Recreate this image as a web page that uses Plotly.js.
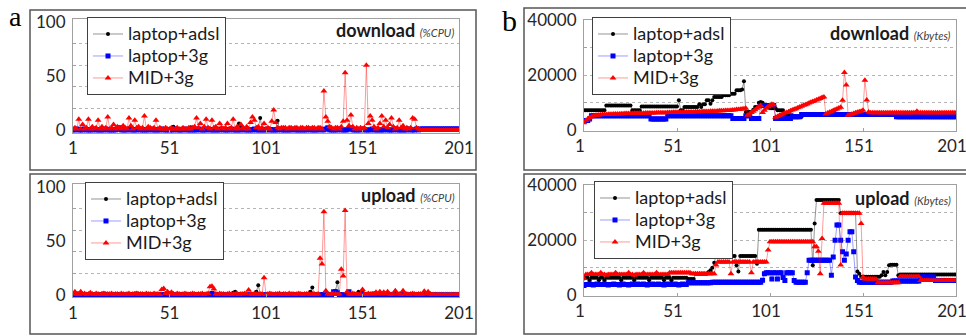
<!DOCTYPE html>
<html><head><meta charset="utf-8">
<script src="https://cdn.plot.ly/plotly-3.0.1.min.js"></script>
<style>html,body{margin:0;padding:0;background:#fff;}#chart{width:966px;height:336px;}</style>
</head><body><div id="chart"></div>
<script>
// ---------- labels ----------
const seriesNames = ['laptop+adsl', 'laptop+3g', 'MID+3g'];
const xTickVals = [1, 51, 101, 151, 201];
const xTickText = ['1', '51', '101', '151', '201'];
const cpuTickVals = [0, 50, 100];
const cpuTickText = ['0', '50', '100'];
const cpuGridVals = [20, 40, 60, 80];
const kbTickVals = [0, 20000, 40000];
const kbTickText = ['0', '20000', '40000'];
const kbGridVals = [10000, 30000];
const panelTitleMain = ['download', 'upload', 'download', 'upload'];
const panelTitleUnit = ['(%CPU)', '(%CPU)', '(Kbytes)', '(Kbytes)'];
const panelLetters = ['a', 'b'];

// ---------- panel a, download (%CPU) ----------
const cpuDownAdsl = [
1,0,1,1,0,1,0,1,1,0, 1,0,1,0,1,1,0,1,0,1, 0,1,1,0,1,0,1,1,0,1, 1,0,1,0,1,1,0,1,0,1,
0,1,1,0,1,0,1,0,1,1, 0,1,3,1,0,1,1,0,1,0, 1,2.5,1,0,1,1,0,1,0,1, 1,0,1,0,1,1,0,1,0,1,
1,0,1,1,0,1,6,3.5,1,0, 1,1,0,1,0,1,2,11,1,0, 1,1,0,1,0,1,8.5,1,0,1, 1,0,1,1,0,1,0,1];
const cpuDown3g = [
0,0,1,0,0,0,1,0,0,0, 0,1,0,0,0,0,0,1,0,0, 0,0,0,1,2,0,0,0,0,1, 0,0,0,0,1,0,0,0,0,0,
1,0,0,0,0,0,1,0,0,0, 0,0,0,1,0,0,0,0,1,0, 0,0,0,0,0,1,0,0,0,0, 1,0,0,0,0,0,0,1,0,0,
0,0,1,0,0,0,0,0,1,0, 0,0,0,0,1,0,0,0,0,0, 0,1,0,0,0,0,0,1,0,0, 0,0,0,0,1,0,0,0,0,0,
0,0,1,0,0,0,0,0,1,0, 0,1,2,0,0,0,0,0,1,0, 0,0,0,1,2,0,0,0,0,0, 1,0,0,0,0,1,0,0,0,0,
0,0,1,0,0,0,0,1,0,0, 0,0,0,0,1,0,0,0,1,0, 1,1,1,1,1,1,1,1,1,1, 1,1,1,1,1,1,1,1,1,1, 1];
const cpuDownMid = [
1,2,1,10,1,5,1,2,10,1, 3,1,2,9,1,3,1,2,12,1, 2,5,1,3,2,1,4,2,1,11, 4,1,9,2,3,1,2,13,1,3,
2,1,2,9,1,2,1,1,2,1, 1,2,1,1,2,1,1,2,1,1, 2,1,2,3,11,2,6,1,3,10, 2,1,9,2,3,1,6,2,1,2,
6,1,2,10,1,3,1,5,2,1, 3,1,7,12,9,2,3,1,2,6, 1,2,1,8,18.5,7,2,1,2,2, 2,1,2,2,1,2,2,1,2,2,
1,2,2,1,2,2,1,2,2,1, 36,12,8,3,2,1,2,2,1,3, 8,53,9,4,14,3,1,2,1,2, 1,2,60,6,13,9,3,1,2,6,
13,3,9,2,5,11,3,1,2,9, 2,4,1,2,1,2,11,10,2,1, 0,0,0,0,0,0,0,0,0,0, 0,0,0,0,0,0,0,0,0,0, 0];

// ---------- panel a, upload (%CPU) ----------
const cpuUpAdsl = [
0,1,0,0,1,0,1,0,0,1, 0,0,1,0,1,0,0,1,0,0, 1,0,0,1,0,1,0,0,1,0, 0,1,0,0,1,0,0,1,0,1,
0,0,1,0,0,1,0,1,0,0, 1,0,0,1,0,0,1,0,1,0, 0,1,0,0,1,0,0,1,0,0, 1,0,0,1,0,1,0,0,1,0,
0,1,0,2,3,0,1,0,0,1, 0,0,1,0,1,3,9,1,0,0, 1,0,0,1,0,0,1,0,0,1, 0,0,1,0,0,1,0,0,1,0,
0,1,0,3,7,0,1,0,0,1, 0,0,1,0,0,1,4,11.7,0,1, 0,0,1,0,0,1,0,1,3,0, 2,0,1,0,0,1,0,0,1,0,
0,1,0,0,1,0,0,1,0,0, 1,0,0,1,0,0,1,0,0,1, 0,0,1,0,0,1,0,0,1,0, 0,1,0,0,1,0,0,1,0,0, 1];
const cpuUp3g = [
0,0,1,0,0,0,0,0,0,0, 0,0,0,0,0,0,1,0,0,0, 0,0,0,0,0,0,0,0,0,0, 0,0,0,1,0,0,0,0,0,0,
0,0,0,0,0,0,0,0,0,0, 0,1,0,0,0,0,0,0,0,0, 0,0,0,0,0,0,0,0,0,0, 0,0,1.5,0,0,0,0,0,0,0,
0,0,0,0,0,0,0,0,0,0, 0,0,0,0,0,0,0,0,0,0, 0,0,0,0,0,0,0,0,0,0, 0,0,0,0,0,0,0,0,0,0,
0,0,0,0,0,0,0,0,0,0, 0,0,0,0,0,3,3,2,0,0, 0,0,0,3,0,0,0,0,0,0, 0,0,0,0,0,0,1,0,0,0,
0,1,0,0,0,0,0,0,0,0, 0,0,0,0,0,0,0,0,0,0, 0,0,0,0,1,0,0,0,0,0, 0,0,0,0,0,0,0,0,0,0, 0];
const cpuUpMid = [
1,3,1,0.5,3,1,1.5,0.5,1,2, 1,0.5,1.5,1,0.5,1,1.5,0.5,1,1, 1.5,0.5,1,1,0.5,1.5,1,0.5,1,1.5, 0.5,1,1,1.5,0.5,1,1,0.5,1.5,1,
1,0.5,1.5,1,1,0.5,5,6,1.5,3, 1,2.5,1,0.5,1.5,1,0.5,1,1.5,1, 0.5,1,1.5,1,0.5,1,1,1.5,0.5,1, 1.5,7.7,8,5.5,1,0.5,1.5,1,1,0.5,
1,1.5,0.5,1,1,1.5,0.5,1,1,1.5, 1,4.6,1,0.5,1.5,1,0.5,1,1,16, 0.5,1,1.5,1,0.5,1,1,1.5,0.5,1, 1,0.5,1.5,1,1,0.5,1,1.5,1,0.5,
1,1,1.5,0.5,1,1,0.5,1,34,28.7, 77,4,1,0.5,1.5,1,1,0.5,1,23.8, 17.6,78,3,1,0.5,1.5,1,1,0.5,1, 5,1,0.5,1.5,1,1,1,2.5,1,3,
1,2.5,1,3,1,0.5,1,4,1,1, 0.5,4,1,1,0.5,1,1.5,1,0.5,1, 1,0.5,3.5,1,3,1,0.5,0.5,0.5,0.5, 0.5,0.5,0.5,0.5,0.5,0.5,0.5,0.5,0.5,0.5, 0.5];

// ---------- panel b, download (Kbytes) ----------
const kbDownAdsl = [
7300,7300,7300,7300,7300,7300,7300,7300,7300,7300, 7300,7300,9000,9000,9000,9000,9000,9000,9000,9000,
9000,9000,9000,9000,9000,9000,7300,7300,7300,7300, 7300,8700,8700,8700,8700,8700,8700,8700,8700,8700,
8700,8700,8700,8700,8700,8700,8700,8700,8700,8700, 8700,10900,7300,7300,8500,8500,8500,8500,8500,8500,
8500,8500,9500,8500,9500,9500,10900,10900,9700,10900, 12100,12100,12100,12100,12100,12700,12700,12700,12700,13300,
13300,13300,14500,14500,14500,14800,17800,6700,6700,6700, 6700,7500,8500,8500,10000,10300,10000,9000,9000,9000,
8000,8000,8000,8000,7300,7300,7300,7300,5500,5500, 5500,5500,5500,5000,5000,5000,5000,5000];
const kbDown3g = [
3600,3600,3600,4200,5300,5300,5300,5300,5300,5300, 5300,5300,5300,5300,5300,5300,5300,5300,5300,5300,
5300,5300,5300,5300,5300,5300,5300,5300,5300,5300, 5300,5300,5300,5300,5300,5300,4200,4200,4200,4200,
4200,4200,4200,4200,4200,5300,5300,5300,5300,5300, 5300,5300,5300,5300,5300,5300,5300,5300,5300,5300,
5300,5300,5300,5300,5300,5300,5300,5300,5300,5300, 5300,5300,5300,5300,5300,5300,5300,5300,5300,5300,
4300,4300,4300,4300,4300,4300,4300,5300,5300,5300, 4300,4300,4300,4300,4300,9000,9000,9000,9000,9000,
9000,9000,9000,4300,4300,4300,4300,4300,4300,4300, 4300,4300,5000,5000,5000,5000,5000,5800,5800,5800,
5800,5800,5800,5800,5800,5800,5800,5800,5800,5800, 5800,5800,5800,5800,5800,5800,5800,5800,5800,5800,
5800,5800,5800,5800,5800,5800,5800,5800,5800,5800, 5800,5800,5800,5800,5800,5800,5800,5800,5800,5800,
5800,5800,5800,5800,5800,5800,5800,5800,5000,5000, 5000,5000,5000,5000,5000,5000,5000,5000,5000,5000,
5000,5000,5000,5000,5000,5000,5000,5000,5000,5000, 5000,5000,5000,5000,5000,5000,5000,5000,5000,5000, 5000];
const kbDownMid = [
2800,3600,4200,4700,5000,5200,5400,5500,5600,5700, 5750,5800,5800,5850,5900,5900,5950,6000,6000,6000,
6050,6050,6100,6100,6100,6150,6150,6200,6200,6200, 6250,6250,6250,6300,6300,6300,6350,6350,6350,6400,
6400,6400,6450,6450,6450,6500,6500,6500,6550,6550, 6550,6600,6600,6600,6650,6650,6650,6700,6700,6700,
6750,6750,6800,6800,6850,6850,6900,6900,6950,6950, 7000,7000,7050,7100,7100,7150,7200,7200,7250,7300,
7400,7450,7550,7600,7700,7800,7900,8000,5500,6000, 6500,7000,7500,8000,8500,9000,6500,7300,8000,8600,
9100,9500,9300,4800,5100,5400,5700,6000,6300,6500, 6800,7100,7400,7700,7900,8200,8500,8800,9100,9300,
9600,9900,10200,10500,10700,11000,11300,11600,11900,12100, 6000,6300,6600,6900,7200,7500,7800,8100,8400,10900,
21000,16400,5500,5700,5900,6100,6400,6600,6800,7000, 7300,18200,11000,6700,6400,6400,6400,6400,6400,6400,
6400,6400,6400,6400,6400,6400,6400,6400,6400,6400, 6400,6400,6400,6400,6400,6400,6400,6400,6400,7000,
6400,6400,6400,6400,6400,6400,6400,6400,6400,6400, 6400,6400,6400,6400,6400,6400,6400,6400,6400,6400, 6400];

// ---------- panel b, upload (Kbytes) ----------
const kbUpAdsl = [
6100,6400,6400,5500,6400,6400,6400,6400,5500,6400, 6400,5500,6400,6400,6400,6400,6400,6400,6400,6400,
5500,6400,6400,6400,6400,6400,6400,5500,6400,6400, 6400,6400,6400,6400,6400,5500,6400,6400,6400,6400,
6400,6400,6400,5500,6400,6400,6400,5500,6400,6400, 6400,6400,6400,6400,6400,6400,6000,6000,6000,6000,
7900,7900,7900,7900,7900,7900,7900,8500,9100,10000, 11800,14300,14300,14300,14300,14300,14300,14300,14300,14300,
14300,14300,10900,8700,14300,14300,14300,14300,14300,14300, 14300,14300,14300,11500,23800,23800,23800,23800,23800,23800,
23800,23800,23800,23800,23800,23800,23800,23800,23800,23800, 23800,23800,23800,23800,23800,23800,23800,23800,23800,23800,
23800,23800,23800,10900,26000,34500,34500,34500,34500,34500, 34500,34500,34500,34500,34500,34500,34500,34500,29700,29700,
29700,29700,29700,29700,29700,29700,29700,8700,7900,6800, 6800,6800,6800,6800,6800,6800,6800,6800,6800,6800,
7300,8500,7300,8500,10900,11100,11100,11100,11100,7300, 7600,7600,7600,7600,7600,7600,7600,7600,7600,7600,
7600,7600,7600,7600,7600,7600,7600,7600,7600,7600, 7600,7600,7600,7600,7600,7600,7600,7600,7600,7600, 7600];
const kbUp3g = [
3600,4000,4000,4200,4000,3800,4000,4200,4000,4000, 4000,4200,4000,3800,4000,4000,4200,4000,4000,3800,
4000,4200,4000,4000,3800,4000,4200,4000,4000,4200, 4000,4000,4200,4000,3800,4000,4000,4200,4000,4000,
4200,4000,4000,3800,4000,4200,4000,4000,4000,4200, 4000,3800,4000,4200,4000,4000,4600,4600,4600,4600,
4600,4600,4600,4600,4600,4600,4600,4600,4600,4800, 4800,4800,4800,4800,4800,4800,4800,4800,4800,4800,
4800,4800,4800,4800,4800,4800,4800,4800,4800,4800, 4800,4800,4800,4800,4800,4800,5500,7900,8200,8200,
8200,6000,8200,8200,6000,8200,8200,6500,5400,8200, 8200,8200,8200,5400,4800,4800,4800,4800,4800,4800,
8200,12700,12700,12700,12700,12700,12700,12700,12700,12700, 12700,12700,12700,7300,13900,20000,25500,25500,20000,15800,
12700,15000,20000,23000,23000,15800,6700,5400,4800,4800, 4800,4800,4800,4800,4800,4800,4800,4800,4800,4800,
4800,4800,4800,4800,4800,4800,5200,5200,5200,5200, 5200,5200,5200,5200,5200,5200,5200,5200,5200,5200,
5200,6700,6700,6700,6700,6700,6700,6700,6700,5400, 5400,5400,5400,5400,5400,5400,5400,5400,5400,5400, 5400];
const kbUpMid = [
6100,7600,7600,7600,8200,7600,7600,7600,7600,8200, 7600,7600,7300,7600,7600,7600,7600,8200,7600,7600,
7600,7600,7600,7600,8200,7600,7600,7300,7600,7600, 7600,7600,8200,7600,7600,7600,7600,7600,7600,8200,
7600,7600,7600,7600,7600,7600,8200,8200,8200,8200, 8200,8200,8200,8200,8200,8200,8200,8200,7900,7900,
7900,7900,7900,7900,7900,7900,7900,7900,7900,7900, 7900,11000,12100,12100,12100,12100,12100,12100,12100,7900,
12100,12100,12100,12100,12100,12100,12100,12100,12100,12100, 8200,12100,12100,12100,12100,12100,12100,12100,12100,16400,
19400,19400,19400,19400,19400,19400,19400,19400,19400,19400, 19400,19400,19400,19400,19400,19400,19400,19400,19400,19400,
19400,19400,19400,19400,17600,17600,16000,7900,20600,33300, 33300,33300,33300,33300,33300,33300,33300,33300,11000,29700,
29700,29700,29700,29700,29700,29700,29700,29700,29700,26000, 6700,6000,6000,6000,6000,6000,6000,6000,4600,4600,
4600,4600,4600,4600,4600,4600,4600,4600,4600,4600, 6900,6900,6900,6900,6900,6900,6900,6900,6900,6900,
6900,5400,5400,5400,5400,5400,5400,5400,5400,5400, 5400,5400,5400,5400,5400,5400,5400,5400,5400,5400, 5400];

// ---------- build ----------
const W = 966, H = 336;
const FONT = 'Lato, "Open Sans", sans-serif';
const px = v => v / W;
const py = v => 1 - v / H;
const idx = arr => arr.map((_, i) => i + 1);

const styles = [
  {color: '#000000', line: 'rgba(60,60,60,0.55)', symbol: 'circle', size: 4},
  {color: '#0000ff', line: 'rgba(40,40,255,0.45)', symbol: 'square', size: 5},
  {color: '#ff0000', line: 'rgba(255,0,0,0.4)', symbol: 'triangle-up', size: 6}
];

const panels = [
  {data: [cpuDownAdsl, cpuDown3g, cpuDownMid], xa: 'x', ya: 'y', lg: 'legend'},
  {data: [cpuUpAdsl, cpuUp3g, cpuUpMid], xa: 'x2', ya: 'y2', lg: 'legend2'},
  {data: [kbDownAdsl, kbDown3g, kbDownMid], xa: 'x3', ya: 'y3', lg: 'legend3'},
  {data: [kbUpAdsl, kbUp3g, kbUpMid], xa: 'x4', ya: 'y4', lg: 'legend4'}
];

const traces = [];
panels.forEach(p => {
  p.data.forEach((vals, k) => {
    const s = styles[k];
    traces.push({
      type: 'scatter', mode: 'lines+markers',
      name: '<span style="font-size:18px">' + seriesNames[k] + '</span>',
      x: idx(vals), y: vals, xaxis: p.xa, yaxis: p.ya, legend: p.lg,
      line: {color: s.line, width: 1},
      marker: {color: s.color, symbol: s.symbol, size: s.size, line: {width: 0}},
      hoverinfo: 'skip'
    });
  });
});

const frameColor = '#a0a0a0';
const tickFont = {family: FONT, size: 17, color: '#262626'};

function xAxis(dom, anchor, shift) {
  return {domain: dom, anchor: anchor, range: [1, 201], tickmode: 'array',
    tickvals: xTickVals, ticktext: xTickText, showgrid: false, zeroline: false,
    showline: true, mirror: true, linecolor: frameColor, linewidth: 1,
    ticks: 'inside', ticklen: 3, tickcolor: frameColor, tickfont: tickFont,
    ticklabeloverflow: 'allow', ticklabelshift: shift};
}
function cpuAxis(dom, anchor, rng) {
  return {domain: dom, anchor: anchor, range: rng, tickmode: 'array',
    tickvals: cpuTickVals, ticktext: cpuTickText, showgrid: false, zeroline: false,
    showline: true, mirror: true, linecolor: frameColor, linewidth: 1,
    ticks: '', tickfont: tickFont, ticklabelstandoff: 3,
    minor: {tickmode: 'array', tickvals: cpuGridVals, showgrid: true,
      gridcolor: '#b5b5b5', griddash: 'dot', gridwidth: 1,
      ticks: 'inside', ticklen: 3, tickcolor: frameColor}};
}
function kbAxis(dom, anchor) {
  return {domain: dom, anchor: anchor, range: [0, 40000], tickmode: 'array',
    tickvals: kbTickVals, ticktext: kbTickText, showgrid: true, gridcolor: '#b5b5b5', griddash: 'dot',
    zeroline: false, showline: true, mirror: true, linecolor: frameColor, linewidth: 1,
    ticks: '', tickfont: tickFont, ticklabelstandoff: 3,
    minor: {tickmode: 'array', tickvals: kbGridVals, showgrid: true,
      gridcolor: '#b5b5b5', griddash: 'dot', gridwidth: 1,
      ticks: 'inside', ticklen: 3, tickcolor: frameColor}};
}
function legendAt(x, y) {
  return {x: px(x), y: py(y), xanchor: 'left', yanchor: 'top',
    bgcolor: '#ffffff', bordercolor: '#404040', borderwidth: 1,
    font: {family: FONT, size: 14.6, color: '#1a1a1a'}, itemwidth: 30,
    tracegroupgap: 0};
}

const xa = [px(73), px(459)], xb = [px(584), px(956)];
const layout = {
  width: W, height: H, margin: {l: 0, r: 0, t: 0, b: 0},
  paper_bgcolor: '#ffffff', plot_bgcolor: '#ffffff', showlegend: true,
  font: {family: FONT, color: '#262626'},
  xaxis: xAxis(xa, 'y', 0), yaxis: cpuAxis([py(132.7), py(19.3)], 'x', [-2.5, 102.5]),
  xaxis2: xAxis(xa, 'y2', 0), yaxis2: cpuAxis([py(297.3), py(183.5)], 'x2', [-2.1, 103]),
  xaxis3: xAxis(xb, 'y3', -4), yaxis3: kbAxis([py(130.5), py(19.8)], 'x3'),
  xaxis4: xAxis(xb, 'y4', -4), yaxis4: kbAxis([py(295.5), py(184.8)], 'x4'),
  legend: legendAt(87, 17), legend2: legendAt(85, 182),
  legend3: legendAt(592, 17), legend4: legendAt(594, 181),
  shapes: [
    {type: 'rect', xref: 'paper', yref: 'paper', x0: px(30), x1: px(476), y0: py(170), y1: py(10), line: {color: '#555', width: 1.5}},
    {type: 'rect', xref: 'paper', yref: 'paper', x0: px(30), x1: px(476), y0: py(334), y1: py(174), line: {color: '#555', width: 1.5}},
    {type: 'rect', xref: 'paper', yref: 'paper', x0: px(524), x1: 1.02, y0: py(170), y1: py(8), line: {color: '#555', width: 1.5}},
    {type: 'rect', xref: 'paper', yref: 'paper', x0: px(524), x1: 1.02, y0: py(334), y1: py(174), line: {color: '#555', width: 1.5}}
  ],
  annotations: []
};

const titlePos = [[456, 30], [457, 195], [953, 33], [953, 198]];
titlePos.forEach((p, k) => {
  layout.annotations.push({xref: 'paper', yref: 'paper', x: px(p[0]), y: py(p[1]),
    xanchor: 'right', yanchor: 'middle', showarrow: false,
    text: '<b>' + panelTitleMain[k] + '</b> <span style="font-size:11px;color:#404040"><i>' + panelTitleUnit[k] + '</i></span>',
    font: {family: FONT, size: 18, color: '#1a1a1a'}});
});
const letterPos = [[8, 0, 28], [501, 3, 30]];
letterPos.forEach((p, k) => {
  layout.annotations.push({xref: 'paper', yref: 'paper', x: px(p[0]), y: py(p[1]),
    xanchor: 'left', yanchor: 'top', showarrow: false, text: panelLetters[k], borderpad: 0,
    font: {family: '"Liberation Serif", "DejaVu Serif", serif', size: p[2], color: '#000'}});
});

Plotly.newPlot('chart', traces, layout, {staticPlot: true, displayModeBar: false});
</script>
</body></html>
